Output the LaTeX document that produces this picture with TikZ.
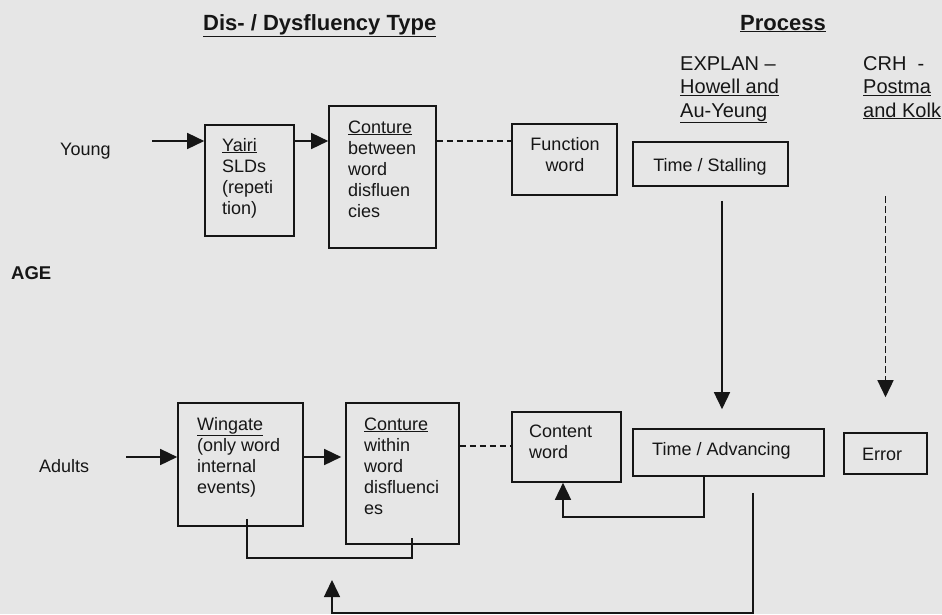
\documentclass[tikz,border=0pt]{standalone}
\usepackage{fontspec}
\setmainfont{Liberation Sans}
\usetikzlibrary{arrows.meta,calc}
\definecolor{bgc}{RGB}{230,230,230}
\definecolor{ink}{RGB}{22,22,22}
\newcommand{\tb}[1]{\begin{tabular}[t]{@{}l@{}}#1\end{tabular}}
\newcommand{\tc}[1]{\begin{tabular}[t]{@{}c@{}}#1\end{tabular}}
\tikzset{
  boxnode/.style={draw=ink, line width=1.6pt, inner sep=0pt},
  txt/.style={inner sep=0pt, anchor=base west, text=ink, font=\fontsize{18}{21}\selectfont},
  txtc/.style={inner sep=0pt, anchor=base, text=ink, font=\fontsize{18}{21}\selectfont},
  ref/.style={inner sep=0pt, anchor=base west, text=ink, font=\fontsize{20}{23.5}\selectfont},
  head/.style={inner sep=0pt, anchor=base west, text=ink, font=\fontsize{22}{26}\selectfont\bfseries},
  conn/.style={draw=ink, line width=1.5pt},
  arr/.style={conn, -{Triangle[length=17pt,width=16pt]}},
  dsh/.style={conn, dash pattern=on 6pt off 4pt},
}
\begin{document}
\begin{tikzpicture}[x=1pt,y=-1pt]
\fill[bgc] (0,0) rectangle (942,614);
\useasboundingbox (0,0) rectangle (942,614);

% headers
\node[head] (h1) at (203,30) {\underline{Dis- / Dysfluency Type}};
\node[head] (h2) at (740,30) {\underline{Process}};
\node[ref] (explan) at (680,70) {\tb{EXPLAN --\\\underline{Howell and}\\\underline{Au-Yeung}}};
\node[ref] (crh) at (863,70) {\tb{CRH\ \ -\\\underline{Postma}\\\underline{and Kolk}}};

% side labels
\node[txt] (young) at (60,155) {Young};
\node[txt, font=\fontsize{18.5}{21}\selectfont\bfseries] (age) at (11,279) {AGE};
\node[txt] (adults) at (39,472) {Adults};

% top row boxes
\node[boxnode, minimum width=89pt, minimum height=111pt] (yairi) at (249.5,180.5) {};
\node[txt] (yairiT) at (222,151) {\tb{\underline{Yairi}\\SLDs\\(repeti\\tion)}};
\node[boxnode, minimum width=107pt, minimum height=142pt] (cont1) at (382.5,177) {};
\node[txt] (cont1T) at (348,133) {\tb{\underline{Conture}\\between\\word\\disfluen\\cies}};
\node[boxnode, minimum width=105pt, minimum height=71pt] (func) at (564.5,159.5) {};
\node[txtc] (funcT) at (565,150) {\tc{Function\\word}};
\node[boxnode, minimum width=155pt, minimum height=44pt] (stall) at (710.5,164) {};
\node[txtc] (stallT) at (710,171) {Time / Stalling};

% bottom row boxes
\node[boxnode, minimum width=125pt, minimum height=123pt] (wing) at (240.5,464.5) {};
\node[txt] (wingT) at (197,430) {\tb{\underline{Wingate}\\(only word\\internal\\events)}};
\node[boxnode, minimum width=113pt, minimum height=141pt] (cont2) at (402.5,473.5) {};
\node[txt] (cont2T) at (364,430) {\tb{\underline{Conture}\\within\\word\\disfluenci\\es}};
\node[boxnode, minimum width=109pt, minimum height=70pt] (content) at (566.5,447) {};
\node[txt] (contentT) at (529,437) {\tb{Content\\word}};
\node[boxnode, minimum width=191pt, minimum height=47pt] (adv) at (728.5,452.5) {};
\node[txt] (advT) at (652,455) {Time / Advancing};
\node[boxnode, minimum width=83pt, minimum height=41pt] (err) at (885.5,453.5) {};
\node[txtc] (errT) at (882,460) {Error};

% helper coordinates
\coordinate (ys) at (152,141);
\coordinate (as) at (126,457);
\coordinate (yd) at (0,446);
\coordinate (xa) at (722,0);
\coordinate (xb) at (704,0);
\coordinate (xc) at (563,0);
\coordinate (xd) at (247,0);
\coordinate (ye) at (0,558);
\coordinate (xe) at (412,0);
\coordinate (xf) at (753,0);
\coordinate (xg) at (332,0);
\coordinate (yb) at (0,613);
\coordinate (yc) at (0,580);

% top row connectors
\draw[arr] (ys) -- (ys -| yairi.west);
\draw[arr] (yairi.east |- ys) -- (cont1.west |- ys);
\draw[dsh] (cont1.east |- ys) -- (func.west |- ys);

% bottom row connectors
\draw[arr] (as) -- (as -| wing.west);
\draw[arr] (wing.east |- as) -- ([xshift=-4pt]cont2.west |- as);
\draw[dsh] (cont2.east |- yd) -- (content.west |- yd);

% process arrows
\draw[arr, shorten <=14pt, shorten >=19pt] (stall.south -| xa) -- (adv.north -| xa);
\draw[arr, dash pattern=on 7pt off 3pt, shorten <=72pt, shorten >=35pt] (crh.south -| err.north) -- (err.north);

% feedback loops
\draw[arr] (adv.south -| xb) -- ++(0,40) -| (content.south -| xc);
\draw[conn] ([yshift=8pt]wing.south -| xd) -- (xd |- ye) -| ([yshift=7pt]cont2.south -| xe);
\draw[arr, shorten <=16pt] (adv.south -| xf) -- (xf |- yb) -| (xg |- yc);
\end{tikzpicture}
\end{document}
